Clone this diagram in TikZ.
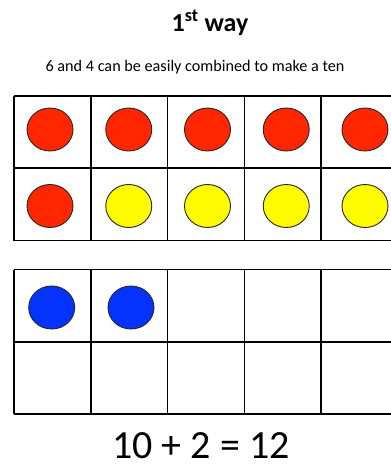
\documentclass[tikz,border=0pt]{standalone}
\usepackage{fontspec}
\setmainfont{Carlito}
\usepackage{tikz}

\definecolor{dotred}{RGB}{255,38,0}
\definecolor{dotyellow}{RGB}{255,251,0}
\definecolor{dotblue}{RGB}{4,51,255}

\begin{document}
\begin{tikzpicture}[x=1pt,y=-1pt]
    \useasboundingbox (0,0) rectangle (391,466);
    % Title and note
    \node[anchor=base] (title) at (210,31) {\fontsize{26}{30}\selectfont\bfseries 1\textsuperscript{st} way};
    \node[anchor=base] (note) at (195,71.5) {\fontsize{16.2}{18}\selectfont 6 and 4 can be easily combined to make a ten};
    % Two ten frames
    \begin{scope}
        \clip (0,0) rectangle (391,466);
        \foreach \top in {96,269.5} {
            \foreach \i in {0,...,5}
                \draw[line width=1.6pt] (14+76.8*\i,\top) -- (14+76.8*\i,\top+144.5);
            \foreach \j in {0,1,2}
                \draw[line width=1.6pt] (14,\top+72.25*\j) -- (400,\top+72.25*\j);
        }
        % Counters in the first frame
        \foreach \i in {0,...,4}
            \filldraw[fill=dotred,draw=black!85,line width=0.9pt] (50+78.75*\i,129.5) ellipse [x radius=23pt,y radius=21.5pt];
        \filldraw[fill=dotred,draw=black!85,line width=0.9pt] (50,206) ellipse [x radius=23pt,y radius=21.5pt];
        \foreach \i in {1,...,4}
            \filldraw[fill=dotyellow,draw=black!85,line width=0.9pt] (50+78.75*\i,206) ellipse [x radius=23pt,y radius=21.5pt];
        % Counters in the second frame
        \foreach \i in {0,1}
            \filldraw[fill=dotblue,draw=black!85,line width=0.9pt] (51.7+79.3*\i,307.5) ellipse [x radius=23pt,y radius=21.5pt];
    \end{scope}
    \node[anchor=base,inner sep=0pt] (sum) at (201,458) {\fontsize{40}{44}\selectfont 10 + 2 = 12};
\end{tikzpicture}
\end{document}
